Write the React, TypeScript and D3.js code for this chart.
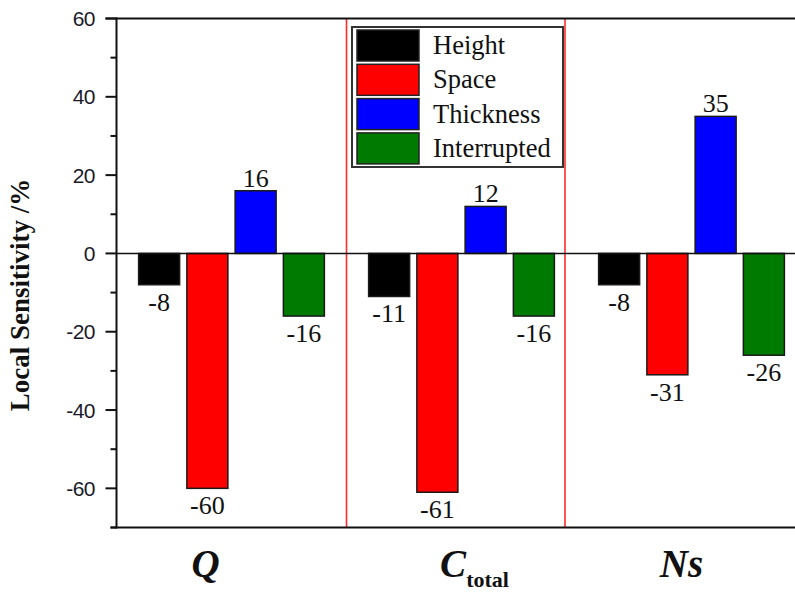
import React from "react";
import * as d3 from "d3";

const categories = ["Q", "C", "Ns"];
const categorySubs = ["", "total", ""];
const seriesNames = ["Height", "Space", "Thickness", "Interrupted"];
const seriesColors = ["#000000", "#ff0000", "#0000ff", "#007a00"];
const heightVals = [-8, -11, -8];
const spaceVals = [-60, -61, -31];
const thicknessVals = [16, 12, 35];
const interruptedVals = [-16, -16, -26];
const yMajorTicks = [-60, -40, -20, 0, 20, 40, 60];
const yMinorTicks = [-70, -50, -30, -10, 10, 30, 50];
const separators = [1.5, 2.45];

const W = 795;
const H = 594;
const left = 116.5;
const top = 18.5;
const bottom = 527.5;

export default function App() {
  const seriesVals = [heightVals, spaceVals, thicknessVals, interruptedVals];
  const x = d3.scaleLinear().domain([0.5, 3.5]).range([left, left + 690]);
  const y = d3.scaleLinear().domain([-70, 60]).range([bottom, top]);
  const inner = d3
    .scaleBand<string>()
    .domain(seriesNames)
    .range([-96.5, 96.5])
    .paddingInner(0.15)
    .paddingOuter(0.075);
  const serif = "'Liberation Serif', 'Times New Roman', serif";
  const sans = "'Liberation Sans', Arial, sans-serif";
  const catDx = [-26, 13, -10];

  const legendX = 352;
  const legendY = 27;
  const rowPitch = 34.3;

  return (
    <svg
      width={W}
      height={H}
      style={{ position: "absolute", left: 0, top: 0, background: "#fff" }}
    >
      <rect x={0} y={0} width={W} height={H} fill="#fff" />
      {separators.map((s, i) => (
        <line
          key={"sep" + i}
          x1={x(s)}
          x2={x(s)}
          y1={top}
          y2={bottom}
          stroke="#ff2a2a"
          strokeWidth={1.6}
        />
      ))}
      {seriesVals.map((vals, si) =>
        vals.map((v, ci) => {
          const bx = x(ci + 1) + (inner(seriesNames[si]) as number);
          const bw = inner.bandwidth();
          const y0 = y(0);
          const yv = y(v);
          return (
            <g key={`b${si}-${ci}`}>
              <rect
                x={bx}
                y={Math.min(y0, yv)}
                width={bw}
                height={Math.abs(yv - y0)}
                fill={seriesColors[si]}
                stroke="#1a1a1a"
                strokeWidth={1.5}
              />
              <text
                x={bx + bw / 2}
                y={v >= 0 ? yv - 4 : yv + 26}
                textAnchor="middle"
                fontFamily={serif}
                fontSize={26}
                fill="#111"
              >
                {v}
              </text>
            </g>
          );
        })
      )}
      <line x1={left} x2={W} y1={y(0)} y2={y(0)} stroke="#111" strokeWidth={1.5} />
      <line x1={left - 11} x2={W} y1={top} y2={top} stroke="#111" strokeWidth={2} />
      <line x1={left - 6} x2={W} y1={bottom} y2={bottom} stroke="#111" strokeWidth={2} />
      <line x1={left} x2={left} y1={top - 1} y2={bottom + 1} stroke="#111" strokeWidth={2} />
      {yMajorTicks.map((t) => (
        <g key={"mj" + t}>
          <line x1={left - 11} x2={left} y1={y(t)} y2={y(t)} stroke="#111" strokeWidth={2} />
          <text
            x={95}
            y={y(t) + 7.5}
            textAnchor="end"
            fontFamily={sans}
            fontSize={21}
            letterSpacing={-0.5}
            fill="#1a1a2a"
          >
            {t}
          </text>
        </g>
      ))}
      {yMinorTicks.map((t) => (
        <line key={"mn" + t} x1={left - 6} x2={left} y1={y(t)} y2={y(t)} stroke="#111" strokeWidth={2} />
      ))}
      <text
        transform={`translate(29, ${(170 + 420) / 2}) rotate(-90)`}
        textAnchor="middle"
        fontFamily={serif}
        fontWeight="bold"
        fontSize={27}
        fill="#111"
      >
        Local Sensitivity /%
      </text>
      {categories.map((c, i) => (
        <text
          key={"cat" + i}
          x={x(i + 1) + catDx[i]}
          y={577}
          textAnchor="middle"
          fontFamily={serif}
          fontWeight="bold"
          fill="#111"
        >
          <tspan fontStyle="italic" fontSize={39}>
            {c}
          </tspan>
          {categorySubs[i] ? (
            <tspan fontSize={22} dy={10}>
              {categorySubs[i]}
            </tspan>
          ) : null}
        </text>
      ))}
      <rect
        x={legendX}
        y={legendY}
        width={211}
        height={140}
        fill="#fff"
        stroke="#333"
        strokeWidth={2}
      />
      {seriesNames.map((s, i) => {
        const ry = legendY + 3 + i * rowPitch;
        return (
          <g key={"lg" + i}>
            <rect
              x={legendX + 5}
              y={ry}
              width={62}
              height={31}
              fill={seriesColors[i]}
              stroke="#222"
              strokeWidth={1.5}
            />
            <text
              x={legendX + 81}
              y={ry + 24}
              fontFamily={serif}
              fontSize={26.5}
              fill="#111"
            >
              {s}
            </text>
          </g>
        );
      })}
    </svg>
  );
}
